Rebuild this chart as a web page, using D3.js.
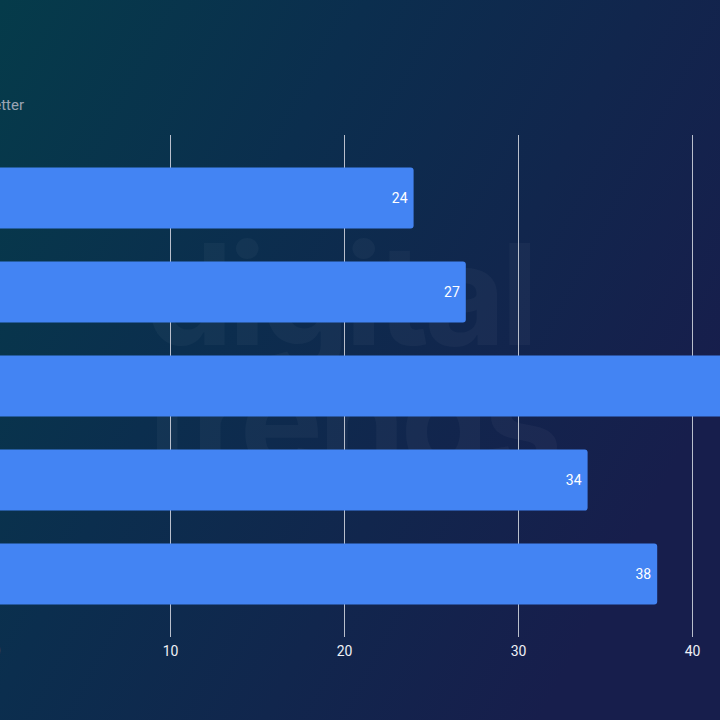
<!DOCTYPE html>
<html>
<head>
<meta charset="utf-8">
<script src="https://cdn.jsdelivr.net/npm/d3@7"></script>
<style>
  html, body { margin: 0; padding: 0; background: #0b2a48; }
  svg { display: block; }
</style>
</head>
<body>
<script>
// chart data (category names sit off the left edge of the frame)
const categories = ['Device A', 'Device B', 'Device C', 'Device D', 'Device E']
const values = [24, 27, 45, 34, 38]
const tickValues = [0, 10, 20, 30, 40]
const subtitle = 'Lower is better'

const width = 720
const height = 720

const svg = d3.select('body').append('svg')
  .attr('width', width)
  .attr('height', height)

// background gradient
const defs = svg.append('defs')
const grad = defs.append('linearGradient')
  .attr('id', 'bg')
  .attr('gradientUnits', 'userSpaceOnUse')
  .attr('x1', 0).attr('y1', 0)
  .attr('x2', 720).attr('y2', 380)
grad.append('stop').attr('offset', '0%').attr('stop-color', '#053b4a')
grad.append('stop').attr('offset', '40%').attr('stop-color', '#0b2e4e')
grad.append('stop').attr('offset', '100%').attr('stop-color', '#171e4c')

svg.append('rect')
  .attr('width', width)
  .attr('height', height)
  .attr('fill', 'url(#bg)')

// faint watermark
const mark = svg.append('g')
  .attr('fill', '#ffffff')
  .attr('fill-opacity', 0.035)
  .attr('font-family', 'Inter, "Noto Sans", sans-serif')
  .attr('font-weight', 700)
mark.append('text')
  .attr('x', 145).attr('y', 345)
  .attr('font-size', 140)
  .attr('letter-spacing', -5)
  .text('digital')
mark.append('text')
  .attr('x', 145).attr('y', 470)
  .attr('font-size', 140)
  .attr('letter-spacing', -5)
  .text('trends')

// scales
const x = d3.scaleLinear()
  .domain([0, 40])
  .range([-4, 692])

const y = d3.scaleBand()
  .domain(categories)
  .range([135, 637])
  .paddingInner(0.35)
  .paddingOuter(0.345)

// gridlines
svg.append('g')
  .selectAll('line')
  .data(tickValues)
  .join('line')
  .attr('x1', d => x(d) + 0.5)
  .attr('x2', d => x(d) + 0.5)
  .attr('y1', 135)
  .attr('y2', 637)
  .attr('stroke', '#b9bfcc')
  .attr('stroke-width', 1)

// x axis labels
const xAxis = d3.axisBottom(x)
  .tickValues(tickValues)
  .tickSize(0)
  .tickPadding(0)

const ax = svg.append('g')
  .attr('transform', 'translate(0,646)')
  .call(xAxis)
ax.select('.domain').remove()
ax.selectAll('text')
  .attr('fill', '#eef0f5')
  .attr('font-size', 14)
  .attr('font-family', 'Roboto, "Noto Sans", sans-serif')

// subtitle
svg.append('text')
  .attr('x', 24)
  .attr('y', 110)
  .attr('text-anchor', 'end')
  .attr('fill', '#9aa4b3')
  .attr('font-size', 15)
  .attr('font-family', 'Roboto, "Noto Sans", sans-serif')
  .text(subtitle)

// bars
svg.append('g')
  .selectAll('rect')
  .data(values)
  .join('rect')
  .attr('x', x(0) - 10)
  .attr('y', (d, i) => y(categories[i]))
  .attr('width', d => x(d) - x(0) + 10)
  .attr('height', y.bandwidth())
  .attr('rx', 3)
  .attr('fill', '#4384f3')

// value labels
svg.append('g')
  .selectAll('text')
  .data(values)
  .join('text')
  .attr('x', d => x(d) - 6)
  .attr('y', (d, i) => y(categories[i]) + y.bandwidth() / 2)
  .attr('dy', '0.35em')
  .attr('text-anchor', 'end')
  .attr('fill', '#ffffff')
  .attr('font-size', 14)
  .attr('font-family', 'Roboto, "Noto Sans", sans-serif')
  .text(d => d)

// category labels (outside the visible frame, like the source crop)
svg.append('g')
  .selectAll('text')
  .data(categories)
  .join('text')
  .attr('x', x(0) - 14)
  .attr('y', d => y(d) + y.bandwidth() / 2)
  .attr('dy', '0.35em')
  .attr('text-anchor', 'end')
  .attr('fill', '#ffffff')
  .attr('font-size', 13)
  .text(d => d)
</script>
</body>
</html>
